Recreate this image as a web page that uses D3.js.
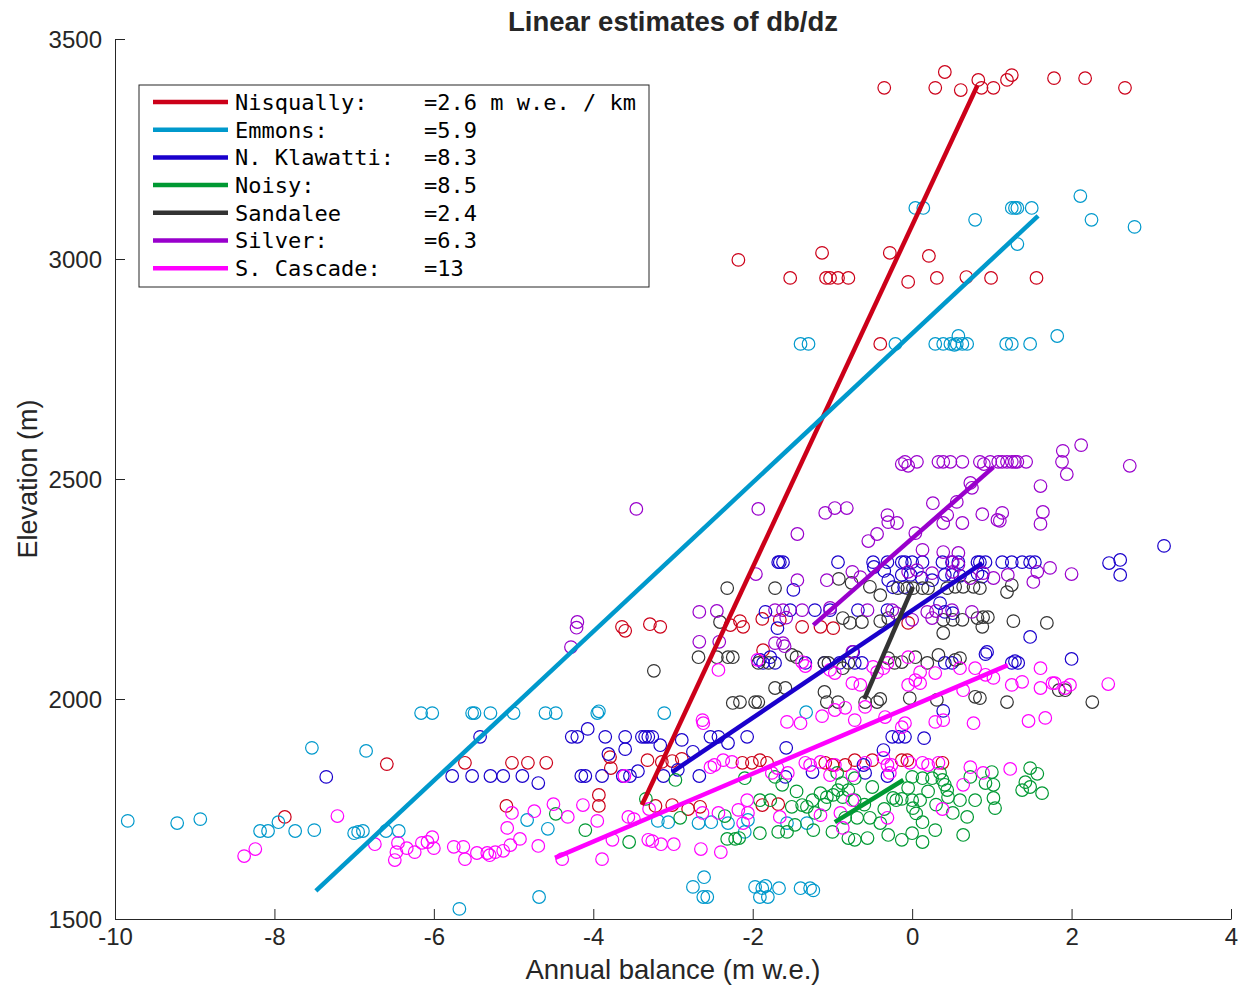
<!DOCTYPE html>
<html>
<head>
<meta charset="utf-8">
<script src="https://cdn.jsdelivr.net/npm/d3@7"></script>
<style>
  body { margin: 0; background: #fff; }
  text { font-family: "Liberation Sans", Arial, Helvetica, sans-serif; fill: #262626; }
  .legend text { font-family: "DejaVu Sans Mono", monospace; fill: #000; white-space: pre; }
</style>
</head>
<body>
<div id="chart-area"></div>
<script>
const FIGURE = { WIDTH: 1243, HEIGHT: 986 };
const MARGINS = { LEFT: 115, TOP: 39, RIGHT: 12, BOTTOM: 67 };
const PLOT = {
    WIDTH: FIGURE.WIDTH - MARGINS.LEFT - MARGINS.RIGHT,
    HEIGHT: FIGURE.HEIGHT - MARGINS.TOP - MARGINS.BOTTOM
};

// glaciers, legend text and colours
const glaciers = ["Nisqually:", "Emmons:", "N. Klawatti:", "Noisy:", "Sandalee", "Silver:", "S. Cascade:"];
const gradients = ["=2.6 m w.e. / km", "=5.9", "=8.3", "=8.5", "=2.4", "=6.3", "=13"];
const colors = ["#cc0019", "#0099cc", "#1a00cc", "#009933", "#333333", "#9900cc", "#ff00ff"];

const xTicks = [-10, -8, -6, -4, -2, 0, 2, 4];
const yTicks = [1500, 2000, 2500, 3000, 3500];

// fitted lines: [balance, elevation] end points
const nisquallyFit = [[-3.39, 1759], [0.82, 3395]];
const emmonsFit = [[-7.48, 1564], [1.58, 3098]];
const klawattiFit = [[-3.01, 1834], [0.88, 2309]];
const noisyFit = [[-0.97, 1720], [-0.11, 1816]];
const sandaleeFit = [[-0.6, 2000], [0.01, 2255]];
const silverFit = [[-1.24, 2168], [1.02, 2527]];
const cascadeFit = [[-4.48, 1639], [1.2, 2077]];

// observations: [annual balance, elevation]
const nisqually = [
    [-0.35,3389],[0.29,3389],[0.41,3425],[0.61,3384],[0.83,3407],[0.87,3389],[1.02,3389],[1.19,3407],[1.25,3418],[1.78,3411],[2.17,3411],[2.67,3389],
    [-2.18,2998],[-1.13,3014],[-1.53,2957],[-1.08,2957],[-1.03,2957],[-0.93,2957],[-0.8,2957],[-0.28,3014],[-0.05,2948],[0.21,3007],[0.31,2957],[0.68,2959],[0.99,2957],[1.56,2957],
    [-0.4,2807],
    [-3.64,2164],[-3.6,2155],[-3.29,2170],[-3.16,2164],[-2.28,2168],[-2.16,2177],[-2.12,2164],[-1.88,2182],[-1.87,2111],[-1.66,2180],[-1.38,2164],[-1.15,2164],[-0.99,2161],[-0.05,2173],
    [-7.87,1732],[-6.59,1852],[-5.61,1855],[-5.02,1855],[-4.82,1855],[-4.59,1855],[-5.09,1757],
    [-3.79,1868],[-3.78,1843],[-3.93,1782],[-3.93,1757],[-3.32,1861],[-3.14,1857],[-3.01,1859],[-2.89,1864],[-3.22,1757],[-3.01,1759],[-2.81,1750],[-2.66,1755],[-2.13,1855],[-2.01,1855],
    [-1.91,1861],[-1.82,1855],[-1.09,1855],[-1.0,1850],[-0.84,1850],[-0.72,1861],[-0.5,1861],[-0.13,1861],[-1.88,1759],[-1.68,1761],[-0.06,1861],[0.38,1855]
];
const emmons = [
    [2.11,3143],[1.25,3116],[1.29,3116],[1.32,3116],[1.5,3116],[0.79,3089],[2.25,3089],[2.79,3073],[1.32,3034],[0.04,3116],[0.14,3116],
    [-1.4,2807],[-1.3,2807],[-0.21,2807],[0.29,2807],[0.39,2807],[0.48,2807],[0.53,2805],[0.58,2825],[0.56,2807],[0.63,2807],[0.69,2807],[1.18,2807],[1.25,2807],[1.48,2807],[1.82,2825],
    [-6.16,1968],[-6.02,1968],[-5.52,1968],[-5.49,1968],[-5.29,1968],[-5.0,1968],[-4.6,1968],[-4.47,1968],[-3.95,1968],[-3.93,1972],[-3.11,1968],[-1.33,1970],
    [-9.84,1723],[-9.22,1718],[-8.93,1727],[-8.18,1700],[-8.08,1700],[-7.95,1720],[-7.74,1700],[-7.5,1702],[-7.53,1889],[-7.0,1695],[-6.85,1882],[-6.95,1698],[-6.89,1700],[-6.6,1700],[-6.44,1700],[-4.83,1725],[-4.57,1705],[-4.68,1550],[-5.68,1523],
    [-2.75,1573],[-2.61,1595],[-2.62,1550],[-2.57,1550],[-1.97,1573],[-3.19,1723],[-3.06,1720],[-2.68,1718],[-2.52,1720],[-2.31,1718],[-2.1,1698],[-2.06,1725],
    [-1.88,1570],[-1.84,1575],[-1.81,1550],[-1.91,1550],[-1.67,1570],[-1.4,1570],[-1.28,1570],[-1.24,1565],[-1.57,1718],[-1.32,1718]
];
const klawatti = [
    [-1.66,2311],[-0.93,2311],[-0.49,2311],[-0.31,2311],[-0.13,2311],[-0.09,2311],[0,2311],[0.13,2311],[0.38,2311],[0.5,2311],[0.58,2311],[0.82,2311],[0.85,2311],[0.92,2311],
    [1.13,2311],[1.25,2311],[1.38,2311],[1.48,2311],[1.54,2311],[2.47,2309],[2.61,2316],[2.61,2282],[3.16,2348],[1.48,2141],[2.0,2091],
    [-0.48,2300],[-0.35,2291],[-0.3,2270],[-0.13,2282],[-0.02,2282],[0.12,2275],[0.25,2270],[0.41,2282],[0.5,2282],[0.6,2280],[0.82,2285],[0.88,2278],[-1.49,2248],[-1.62,2311],
    [-0.24,2254],[-0.1,2254],[0.35,2218],[0.41,2198],[0.51,2195],
    [-1.53,2202],[-1.22,2202],[-1.03,2202],[-0.68,2202],[-0.31,2202],
    [-1.68,2311],[-1.84,2198],[-1.69,2161],[-1.78,2095],[-1.91,2089],
    [-4.2,1914],[-3.85,1914],[-3.6,1914],[-3.39,1914],[-3.35,1914],[-3.31,1914],[-3.26,1914],[-4.07,1932],[-3.16,1895],[-2.89,1907],[-2.53,1914],[-2.43,1914],[-2.31,1900],[-2.07,1914],[-3.6,1886],[-3.81,1875],[-2.75,1880],
    [-4.15,1825],[-4.1,1825],[-3.89,1825],[-3.63,1825],[-3.54,1825],[-3.44,1836],[-3.12,1825],[-2.94,1839],[-2.67,1825],
    [-5.42,1914],[-5.77,1825],[-5.52,1825],[-5.29,1825],[-5.13,1825],[-4.89,1825],[-4.69,1809],[-4.27,1914],[-7.35,1823],
    [-1.58,1889],[-0.25,1914],[-0.17,1914],[-0.36,1884],[-0.61,1850],[-0.59,1832],[-0.31,1825],[-1.25,1834],[-1.59,1823],
    [0.15,1911],[0.39,1973],[-0.09,1914],
    [-1.87,2082],[-1.72,2082],[-1.34,2082],[-1.1,2082],[-0.91,2082],[-0.72,2082],[-0.63,2082],[0.41,2082],[0.5,2082],[0.92,2102],[1.25,2082],[1.29,2086],[1.33,2082],[0.94,2107],[-0.74,2107]
];
const noisy = [
    [-1.91,1770],[-1.78,1770],[-1.91,1695],[-1.68,1698],[-1.57,1698],[-1.72,1823],[-1.63,1805],[-1.51,1755],[-1.38,1759],[-1.32,1755],[-1.25,1770],[-1.22,1741],[-1.15,1786],[-1.07,1777],
    [-0.99,1782],[-0.93,1793],[-0.87,1777],[-0.8,1793],[-0.72,1770],[-0.88,1809],[-0.72,1820],[-0.94,1832],[-1.24,1702],[-1.0,1698],[-0.8,1684],[-0.72,1680],[-0.56,1684],[-0.3,1691],
    [-0.13,1680],[-0.84,1730],[-0.69,1730],[-0.53,1730],[-0.4,1718],[-0.24,1775],[-0.2,1770],[-0.13,1773],[-1.47,1714],[-1.45,1790],[-1.1,1760],[-0.6,1760],[-0.5,1800],[-0.35,1750],
    [0,1823],[0.13,1820],[0.25,1820],[0.35,1832],[0.38,1816],[0.41,1805],[0.44,1793],[0.45,1777],[0,1770],[0.1,1770],[-0.05,1798],[0.01,1752],[0.13,1720],[0.29,1702],[0,1695],
    [0.13,1675],[0.51,1741],[0.6,1770],[0.69,1732],[0.64,1691],[0.79,1770],[0.73,1823],[0.92,1809],[1.0,1834],[1.02,1805],[1.02,1775],[1.04,1752],[1.38,1793],[1.48,1843],
    [1.57,1830],[1.42,1811],[1.48,1800],[1.63,1786],[0.2,1790],[0.3,1760],[0.05,1740],
    [-3.34,1773],[-4.1,1702],[-3.55,1675],[-2.91,1730],[-2.32,1682],[-2.22,1682],[-2.17,1684],[-2.1,1820],[-2.35,1734],[-2.97,1816],[-4.47,1739]
];
const sandalee = [
    [-2.32,2252],[-1.72,2252],[-2.41,2175],[-2.68,2095],[-2.45,2095],[-2.31,2095],[-2.25,2095],[-3.24,2064],[-2.25,1991],[-2.16,1993],[-1.97,1993],
    [-0.92,2273],[-0.76,2264],[-0.53,2255],[-0.4,2236],[-0.18,2252],[-0.06,2252],[0.01,2252],[0.13,2252],[0.2,2252],[0.44,2252],[0.54,2255],[0.64,2255],[0.77,2255],[0.85,2252],
    [-0.87,2184],[-0.78,2173],[-0.63,2175],[-0.4,2177],[-0.3,2184],[0.39,2180],[0.51,2180],[0.63,2180],[0.82,2184],[0.89,2186],[0.95,2186],[0.88,2164],[0.39,2150],
    [1.27,2177],[1.69,2173],[1.25,2259],[1.19,2243],[1.84,2020],[1.92,2020],[2.26,1993],
    [-1.72,2025],[-1.59,2025],[-1.93,1993],[-1.1,2016],[-1.07,1993],[-0.93,1993],[-0.59,1993],[-0.44,1993],[-0.4,2000],
    [-1.93,2082],[-1.8,2082],[-1.51,2100],[-1.45,2095],[-1.1,2082],[-1.05,2082],[-0.87,2070],[-0.8,2082],[-0.3,2093],[-0.22,2082],[-0.13,2084],
    [0.04,2095],[0.19,2082],[0.33,2100],[0.54,2089],[0.6,2093],[-0.03,2002],[0.31,1998],[0.79,2005],[0.85,2002],[1.19,1993]
];
const silver = [
    [-0.09,2539],[-0.13,2534],[-0.05,2530],[0.06,2539],[0.33,2539],[0.39,2539],[0.48,2539],[0.63,2539],[0.85,2539],[0.9,2534],[0.98,2539],[1.08,2539],[1.13,2539],[1.19,2539],
    [1.25,2539],[1.29,2539],[1.32,2539],[1.43,2539],
    [1.89,2564],[2.12,2577],[1.88,2539],[1.94,2511],[2.73,2530],[1.61,2484],[1.64,2425],[1.61,2398],[1.13,2423],[1.1,2405],[1.73,2298],[1.57,2289],[1.52,2266],[2.0,2284],[1.2,2282],
    [0.73,2491],[0.75,2480],[0.56,2448],[0.26,2445],[0.88,2420],[1.07,2407],[0.63,2400],[0.39,2400],[0.44,2418],[0.04,2377],[0.13,2339],[-0.31,2418],[-0.3,2402],[-0.19,2400],
    [-0.44,2375],[-0.55,2359],[-1.09,2423],[-0.97,2434],[-0.82,2434],[-1.44,2375],[-0.75,2289],[-1.07,2270],[-1.44,2270],[-0.65,2277],[0.39,2334],[0.58,2332],[0.51,2311],
    [0.58,2305],[-0.05,2289],[0.06,2293],[0.25,2286],[0.51,2289],[0.73,2275],[0.89,2286],[1.02,2275],
    [-1.38,2202],[-1.62,2202],[-1.58,2185],[-1.03,2207],[-0.56,2202],[-0.25,2202],[-0.2,2195],[0.19,2198],[0.25,2184],[0,2180],[0.3,2200],[0.5,2202],[0.75,2198],[-1.62,2127],
    [-1.6,2120],[-0.75,2107],
    [-3.46,2432],[-1.93,2432],[-1.96,2284],[-2.67,2198],[-2.45,2200],[-4.2,2175],[-4.21,2162],[-4.28,2118],[-2.67,2130],[-2.42,2130],[-1.72,2202],[-1.72,2127]
];
const cascade = [
    [-8.38,1643],[-8.24,1659],[-7.21,1734],
    [-6.74,1670],[-6.45,1673],[-6.47,1652],[-6.49,1634],[-6.34,1661],[-6.24,1652],[-6.15,1673],[-6.08,1675],[-6.02,1686],[-6.0,1661],[-5.75,1664],[-5.63,1664],[-5.61,1636],
    [-5.46,1650],[-5.33,1650],[-5.3,1645],[-5.23,1652],[-5.13,1655],[-5.04,1668],[-4.92,1682],[-5.08,1707],[-5.02,1741],[-4.74,1745],[-4.5,1761],[-4.69,1666],[-4.32,1732],[-4.39,1636],
    [-4.13,1759],[-3.95,1723],[-3.89,1636],[-3.76,1680],[-3.56,1732],[-3.49,1727],[-3.31,1680],[-3.26,1677],[-3.15,1670],[-2.99,1670],[-3.3,1750],[-2.65,1659],[-2.4,1652],
    [-2.63,1741],[-2.43,1741],[-2.63,1952],[-2.62,1945],[-2.43,2066],[-3.61,1825],[-2.53,1845],[-2.48,1850],[-2.37,1861],[-2.26,1857],[-2.07,1770],[-2.18,1748],[-2.06,1741],[-2.12,1718],
    [-1.94,2089],[-1.38,2084],[-1.34,2075],[-1.03,2066],[-0.97,2059],[-0.75,2036],[-0.65,2032],[-0.49,2073],[-0.44,2061],[-0.36,2070],[-0.31,2082],[-1.57,1948],[-1.4,1945],
    [-1.13,1961],[-0.97,1975],[-0.84,1980],[-0.72,1952],[-0.59,1982],[-0.34,1959],[-0.13,1936],
    [-1.76,1832],[-1.69,1843],[-1.56,1832],[-1.34,1855],[-1.28,1850],[-1.15,1857],[-1.03,1827],[-0.97,1850],[-0.75,1827],[-0.59,1855],[-0.36,1866],[-0.31,1850],[-0.26,1850],
    [-0.28,1832],[-0.75,1770],[-1.66,1732],[-1.15,1736],[-0.9,1741],[-0.87,1707],[-0.31,1730],
    [-0.05,2095],[0.1,2061],[0.04,2043],[0.1,2036],[-0.05,2032],[0.29,2059],[0.6,2070],[0.79,2070],[0.92,2055],[1.02,2048],[0.64,2020],[1.25,2032],[1.38,2039],[1.61,2025],
    [1.61,2070],[1.76,2036],[0.29,1948],[0.39,1952],[0.77,1945],[1.46,1950],[1.67,1957],[-0.09,1945],[-0.03,1855],[0.13,1855],[0.2,1850],[0.33,1855],[0.73,1845],[0.89,1832],
    [1.23,1841],[0.64,1805],[0.38,1750],
    [1.79,2036],[1.98,2032],[1.92,2025],[2.46,2034]
];

const pointSets = [nisqually, emmons, klawatti, noisy, sandalee, silver, cascade];
const fitSets = [nisquallyFit, emmonsFit, klawattiFit, noisyFit, sandaleeFit, silverFit, cascadeFit];

let x = d3.scaleLinear().domain([-10, 4]).range([0, PLOT.WIDTH]);
let y = d3.scaleLinear().domain([1500, 3500]).range([PLOT.HEIGHT, 0]);

let svg = d3.select("#chart-area")
    .append("svg")
        .attr("width", FIGURE.WIDTH)
        .attr("height", FIGURE.HEIGHT);

svg.append("rect")
    .attr("width", FIGURE.WIDTH)
    .attr("height", FIGURE.HEIGHT)
    .attr("fill", "#fff");

let plot = svg.append("g")
    .attr("transform", `translate(${MARGINS.LEFT}, ${MARGINS.TOP})`);

// Axes, ticks pointing inwards like matlab, plain hyphen minus, no thousands comma
let xAxis = d3.axisBottom(x).tickValues(xTicks).tickFormat(d => String(d))
    .tickSizeInner(-10).tickSizeOuter(0).tickPadding(13);
let yAxis = d3.axisLeft(y).tickValues(yTicks).tickFormat(d => String(d))
    .tickSizeInner(-10).tickSizeOuter(0).tickPadding(13);

let gx = plot.append("g")
    .attr("class", "x-axis")
    .attr("transform", `translate(0, ${PLOT.HEIGHT})`)
    .call(xAxis);
let gy = plot.append("g")
    .attr("class", "y-axis")
    .call(yAxis);

[gx, gy].forEach(g => {
    g.select(".domain").attr("stroke", "#262626").attr("stroke-width", 1);
    g.selectAll(".tick line").attr("stroke", "#262626").attr("stroke-width", 1);
    g.selectAll(".tick text")
        .attr("font-size", 24)
        .attr("font-family", "Liberation Sans, Arial, sans-serif")
        .attr("fill", "#262626");
});
gx.selectAll(".tick text").attr("dy", "0.55em");
gy.selectAll(".tick text").attr("dy", "0.35em");

// Scatter points
pointSets.forEach((pts, i) => {
    plot.append("g")
        .selectAll("circle")
        .data(pts)
        .enter()
        .append("circle")
            .attr("cx", d => x(d[0]))
            .attr("cy", d => y(d[1]))
            .attr("r", 6.3)
            .attr("fill", "none")
            .attr("stroke", colors[i])
            .attr("stroke-width", 1.2);
});

// Fitted lines
let line = d3.line().x(d => x(d[0])).y(d => y(d[1]));
fitSets.forEach((fit, i) => {
    plot.append("path")
        .datum(fit)
        .attr("d", line)
        .attr("fill", "none")
        .attr("stroke", colors[i])
        .attr("stroke-width", 4.5);
});

// Legend
let legend = svg.append("g").attr("class", "legend");
legend.append("rect")
    .attr("x", 139).attr("y", 85)
    .attr("width", 510).attr("height", 202)
    .attr("fill", "#fff")
    .attr("stroke", "#262626")
    .attr("stroke-width", 1);

glaciers.forEach((name, i) => {
    let yy = 102 + i * 27.7;
    legend.append("line")
        .attr("x1", 153).attr("x2", 228)
        .attr("y1", yy).attr("y2", yy)
        .attr("stroke", colors[i])
        .attr("stroke-width", 4.5);
    legend.append("text")
        .attr("x", 235).attr("y", yy)
        .attr("dy", "0.36em")
        .attr("font-size", 22)
        .text(name);
    legend.append("text")
        .attr("x", 424).attr("y", yy)
        .attr("dy", "0.36em")
        .attr("font-size", 22)
        .text(gradients[i]);
});

// Titles
svg.append("text")
    .attr("x", MARGINS.LEFT + PLOT.WIDTH / 2)
    .attr("y", 31)
    .attr("text-anchor", "middle")
    .attr("font-size", 27.5)
    .attr("font-weight", "bold")
    .attr("fill", "#000")
    .text("Linear estimates of db/dz");

svg.append("text")
    .attr("x", MARGINS.LEFT + PLOT.WIDTH / 2)
    .attr("y", 979)
    .attr("text-anchor", "middle")
    .attr("font-size", 27.5)
    .text("Annual balance (m w.e.)");

svg.append("text")
    .attr("transform", `translate(37, ${MARGINS.TOP + PLOT.HEIGHT / 2}) rotate(-90)`)
    .attr("text-anchor", "middle")
    .attr("font-size", 27)
    .text("Elevation (m)");
</script>
</body>
</html>
